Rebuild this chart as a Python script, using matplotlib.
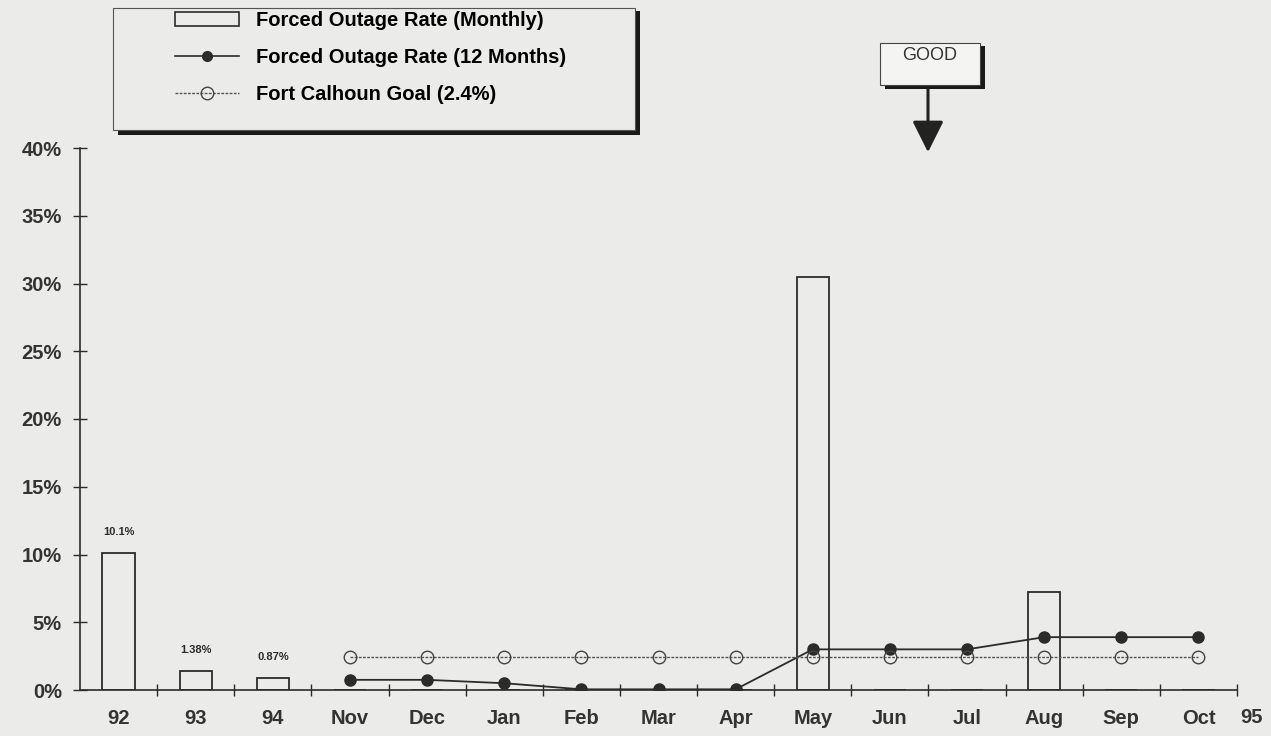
import numpy as np
import matplotlib.pyplot as plt
from matplotlib.patches import Rectangle, Patch
from matplotlib.lines import Line2D

# valores (em %)
categorias = ['92', '93', '94', 'Nov', 'Dec', 'Jan', 'Feb', 'Mar', 'Apr',
              'May', 'Jun', 'Jul', 'Aug', 'Sep', 'Oct']
mensal = [10.1, 1.38, 0.87, 0, 0, 0, 0, 0, 0, 30.5, 0, 0, 7.2, 0, 0]
rotulos_barras = ['10.1%', '1.38%', '0.87%']
doze_meses = [np.nan, np.nan, np.nan, 0.75, 0.75, 0.5, 0.05, 0.05, 0.05,
              3.0, 3.0, 3.0, 3.9, 3.9, 3.9]
meta = [np.nan, np.nan, np.nan] + [2.4] * 12

W, H = 1271, 736
fundo = '#ebebe9'
cor = '#2b2b2b'
plt.rcParams['font.family'] = ['Liberation Sans', 'DejaVu Sans']

fig = plt.figure(figsize=(W / 100, H / 100), dpi=100, facecolor=fundo)
ax = fig.add_axes([80 / W, 1 - 690 / H, (1237 - 80) / W, (690 - 148) / H])
ax.set_facecolor(fundo)

x = np.arange(len(categorias))
barras = ax.bar(x, mensal, width=0.42, facecolor='none', edgecolor=cor, linewidth=1.3, zorder=2)
ax.plot(x, doze_meses, color=cor, linewidth=1.3, marker='o', markersize=8,
        markerfacecolor=cor, markeredgecolor=cor, zorder=3)
ax.plot(x, meta, color='#555555', linewidth=1.0, linestyle=(0, (2, 1)), marker='o',
        markersize=9, markerfacecolor='none', markeredgecolor='#444444', zorder=3)

for i, txt in enumerate(rotulos_barras):
    ax.text(x[i], mensal[i] + 1.2, txt, ha='center', va='bottom', fontsize=8,
            color=cor, fontweight='bold')

ax.set_xlim(-0.5, len(categorias) - 0.5)
ax.set_ylim(0, 40)
ax.set_yticks(np.arange(0, 41, 5))
ax.set_yticklabels([f'{v}%' for v in range(0, 41, 5)], fontsize=14.5, fontweight='bold', color='#333333')
ax.set_xticks(x)
ax.set_xticklabels(categorias, fontsize=14.5, fontweight='bold', color='#333333')
ax.set_xticks(np.arange(0.5, len(categorias), 1), minor=True)
ax.tick_params(axis='x', which='major', length=0, pad=14)
ax.tick_params(axis='x', which='minor', direction='inout', length=9, width=1, color=cor)
ax.tick_params(axis='y', direction='inout', length=10, width=1, color=cor, pad=8)
for lado in ['top', 'right']:
    ax.spines[lado].set_visible(False)
for lado in ['left', 'bottom']:
    ax.spines[lado].set_color(cor)
    ax.spines[lado].set_linewidth(1.2)
ax.text(1.003, -0.05, '95', transform=ax.transAxes, fontsize=14.5, fontweight='bold',
        color='#333333', ha='left', va='center')

# legenda com sombra
alcas = [Patch(facecolor='none', edgecolor=cor, linewidth=1.2),
         Line2D([], [], color=cor, linewidth=1.2, marker='o', markersize=7, markerfacecolor=cor),
         Line2D([], [], color='#555555', linewidth=1.0, linestyle=(0, (2, 1)), marker='o',
                markersize=9, markerfacecolor='none', markeredgecolor='#444444')]
nomes = ['Forced Outage Rate (Monthly)', 'Forced Outage Rate (12 Months)', 'Fort Calhoun Goal (2.4%)']
fig.patches.append(Rectangle((118 / W, 1 - 135 / H), 522 / W, 124 / H, transform=fig.transFigure,
                             facecolor='#1a1a1a', edgecolor='none'))
fig.patches.append(Rectangle((113 / W, 1 - 130 / H), 522 / W, 122 / H, transform=fig.transFigure,
                             facecolor=fundo, edgecolor='#555555', linewidth=0.8))
fig.legend(alcas, nomes, loc='upper left', bbox_to_anchor=(157 / W, 1 + 7 / H),
           frameon=False, handlelength=3.15, handletextpad=0.85,
           labelspacing=0.9, prop={'weight': 'bold', 'size': 14.5})

# caixa GOOD com seta
fig.patches.append(Rectangle((885 / W, 1 - 89 / H), 100 / W, 43 / H, transform=fig.transFigure,
                             facecolor='#1a1a1a', edgecolor='none'))
fig.patches.append(Rectangle((880 / W, 1 - 85 / H), 100 / W, 42 / H, transform=fig.transFigure,
                             facecolor='#f4f4f2', edgecolor='#444444', linewidth=0.8))
fig.text(930 / W, 1 - 56 / H, 'GOOD', ha='center', va='center', fontsize=13, color='#333333')
ax.annotate('', xy=(928 / W, 1 - 155 / H), xytext=(928 / W, 1 - 86 / H),
            xycoords='figure fraction', textcoords='figure fraction',
            arrowprops=dict(arrowstyle='-|>', color='#222222', linewidth=2.2, mutation_scale=48))

fig.savefig('out.png', dpi=100, facecolor=fundo)
